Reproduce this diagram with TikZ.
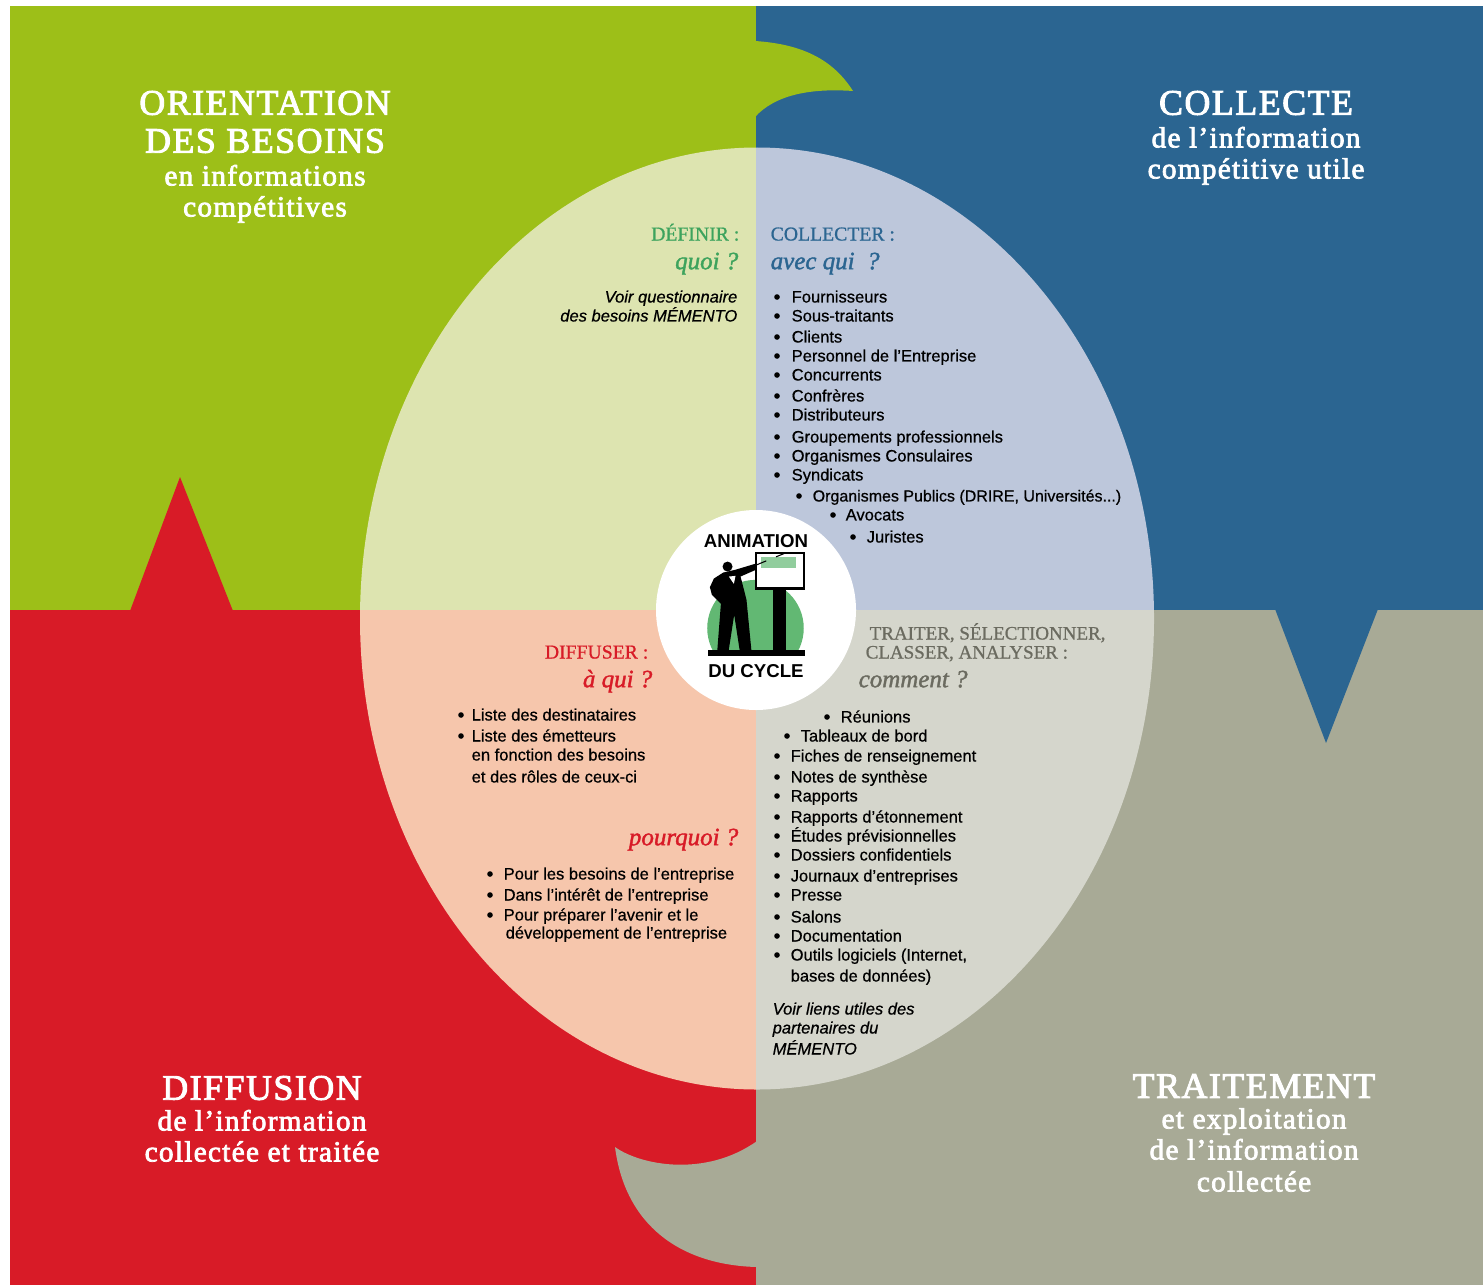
\documentclass[tikz,border=0pt]{standalone}
\usepackage{fontspec}
\setmainfont{Liberation Serif}
\setsansfont{Liberation Sans}
\newfontfamily\titlefont[Ligatures=TeX,FakeBold=2.6,LetterSpace=4.2]{Liberation Serif}
\newfontfamily\subtitlefont[Ligatures=TeX,FakeBold=2.6,LetterSpace=4.5]{Liberation Serif}
\newfontfamily\verbfont[Ligatures=TeX,FakeBold=0.8]{Liberation Serif}
\newfontfamily\askfont[Ligatures=TeX,ItalicFeatures={FakeBold=1.6}]{Liberation Serif}
\newfontfamily\itemfont[Ligatures=TeX,FakeBold=0.6]{Liberation Sans}
\definecolor{orientgreen}{HTML}{9DBF18}
\definecolor{collectblue}{HTML}{2B6591}
\definecolor{diffusered}{HTML}{D81B27}
\definecolor{treatgray}{HTML}{A8AA96}
\definecolor{lightgreen}{HTML}{DDE4B0}
\definecolor{lightblue}{HTML}{BDC7DB}
\definecolor{lightpeach}{HTML}{F6C6AC}
\definecolor{lightgray}{HTML}{D5D6CC}
\definecolor{defgreen}{HTML}{3DA35D}
\definecolor{textgray}{HTML}{6B6B60}
\definecolor{logogreen}{HTML}{62B873}
\tikzstyle{bigtitle}=[white,font=\fontsize{10.2}{12}\selectfont\titlefont,inner sep=0pt]
\tikzstyle{subtitle}=[white,font=\fontsize{8.3}{10}\selectfont\subtitlefont,inner sep=0pt,text height=7pt,text depth=2.2pt]
\tikzstyle{verbtext}=[font=\fontsize{5.6}{6.5}\selectfont\verbfont,inner sep=0pt,text height=3.7pt,text depth=0pt]
\tikzstyle{asktext}=[font=\fontsize{7.1}{9}\selectfont\askfont\itshape,inner sep=0pt,text height=4.9pt,text depth=1.6pt,yshift=-0.4pt]
\tikzstyle{itemtext}=[black,anchor=west,font=\fontsize{4.7}{5.5}\selectfont\itemfont,inner sep=0pt,text height=3.4pt,text depth=1pt,yshift=-0.36pt]
\tikzstyle{notetext}=[black,font=\fontsize{4.7}{5.5}\selectfont\itemfont\itshape,inner sep=0pt,text height=3.4pt,text depth=1pt,yshift=-0.36pt]
\tikzstyle{logotext}=[black,font=\fontsize{5.3}{6.5}\selectfont\sffamily\bfseries,inner sep=0pt]
\newcommand{\drawquadrant}[5]{
  \begin{scope}
    \clip (#2,#3) rectangle (#4,#5);
    \fill[#1] (757,618.5) ellipse (397 and 471);
  \end{scope}
}
% Syntax: {name} {bullet x/text x/y/text, ...}
\newcommand{\drawitems}[2]{
  \foreach \bx/\tx/\y/\txt [count=\i] in {#2} {
    \node[itemtext] (#1\i) at (\tx,\y) {\txt};
    \fill (\bx,\y) circle (2.8);
  }
}
\begin{document}
\begin{tikzpicture}[x=0.01cm,y=-0.01cm]
\useasboundingbox (0,0) rectangle (1483,1285);
% the four panels
\fill[orientgreen] (10,6) rectangle (756,610);
\fill[collectblue] (756,6) rectangle (1483,610);
\fill[diffusered] (10,610) rectangle (756,1285);
\fill[treatgray] (756,610) rectangle (1483,1285);
% tabs and spikes
\fill[orientgreen] (755,41) .. controls (800,44) and (832,58) .. (853,91) .. controls (810,88) and (775,95) .. (755,117) -- cycle;
\fill[diffusered] (130,611) -- (180,477) -- (233,611) -- cycle;
\fill[collectblue] (1275,609) -- (1326,743) -- (1378,609) -- cycle;
\fill[treatgray] (615,1147) .. controls (640,1165) and (705,1178) .. (757,1141) -- (757,1267) .. controls (680,1265) and (625,1225) .. (615,1147) -- cycle;
% central ellipse
\drawquadrant{lightgreen}{300}{100}{756}{610}
\drawquadrant{lightblue}{756}{100}{1200}{610}
\drawquadrant{lightpeach}{300}{610}{756}{1120}
\drawquadrant{lightgray}{756}{610}{1200}{1120}
% logo
\fill[white] (756,610) circle (100);
\begin{scope}[shift={(640,500)},x=0.00333cm,y=-0.00333cm]
  \begin{scope}
    \clip (190,235) rectangle (500,465);
    \fill[logogreen] (347,385) ellipse (145 and 145);
  \end{scope}
  \fill[black] (400,262) rectangle (440,455);
  \fill[black] (205,452) rectangle (497,470);
  \fill[black] (263,200) circle (15);
  \fill[black] (250,218) -- (285,210) -- (345,192) -- (352,208) -- (302,230) -- (306,245) -- (320,300) -- (335,455) -- (300,455) -- (283,345) -- (266,455) -- (232,455) -- (243,312) -- (216,285) -- (210,262) -- (222,236) -- cycle;
  \fill[white] (267,230) -- (287,228) -- (282,252) -- cycle;
  \draw[black,line width=0.7pt,fill=white] (348,160) rectangle (492,266);
  \fill[logogreen!70] (365,172) rectangle (470,205);
  \draw[black,dashed,line width=0.3pt] (350,195) -- (435,160);
\end{scope}
\node[logotext] (animation) at (756,541) {ANIMATION};
\node[logotext] (ducycle) at (756,671) {DU CYCLE};
% titles of the panels
\node[bigtitle] (orient1) at (265,103) {ORIENTATION};
\node[bigtitle] (orient2) at (265,141) {DES BESOINS};
\node[subtitle] (orient3) at (265,177) {en informations};
\node[subtitle] (orient4) at (265,208) {compétitives};
\node[bigtitle] (collect1) at (1256,103) {COLLECTE};
\node[subtitle] (collect2) at (1256,139) {de l'information};
\node[subtitle] (collect3) at (1256,170) {compétitive utile};
\node[bigtitle] (diffuse1) at (262,1088) {DIFFUSION};
\node[subtitle] (diffuse2) at (262,1122) {de l'information};
\node[subtitle] (diffuse3) at (262,1153) {collectée et traitée};
\node[bigtitle] (treat1) at (1254,1086) {TRAITEMENT};
\node[subtitle] (treat2) at (1254,1120) {et exploitation};
\node[subtitle] (treat3) at (1254,1151) {de l'information};
\node[subtitle] (treat4) at (1254,1183) {collectée};
% definir
\node[verbtext,defgreen,anchor=east] (definir) at (740,234) {DÉFINIR :};
\node[asktext,defgreen,anchor=east] (quoi) at (739,262) {quoi ?};
\node[notetext,anchor=east] (voir1) at (738,297) {Voir questionnaire};
\node[notetext,anchor=east] (voir2) at (738,316) {des besoins MÉMENTO};
% collecter
\node[verbtext,collectblue,anchor=west] (collecter) at (770,234) {COLLECTER :};
\node[asktext,collectblue,anchor=west] (avecqui) at (770,262) {avec qui\ \ ?};
\drawitems{coll}{777/791/297/Fournisseurs, 777/791/316/Sous-traitants, 777/791/337/Clients,
  777/791/356/Personnel de l'Entreprise, 777/791/375/Concurrents, 777/791/396/Confrères,
  777/791/415/Distributeurs, 777/791/437/Groupements professionnels, 777/791/456/Organismes Consulaires,
  777/791/475/Syndicats, 799/812/496/{\fontsize{4.55}{5.5}\selectfont Organismes Publics (DRIRE, Universités...)},
  833/845/515/Avocats, 853/866/537/Juristes}
% diffuser
\node[verbtext,diffusered,anchor=east] (diffuser) at (649,652) {DIFFUSER :};
\node[asktext,diffusered,anchor=east] (aqui) at (653,680) {à qui ?};
\drawitems{dest}{461/471/715/Liste des destinataires, 461/471/736/Liste des émetteurs}
\node[itemtext] (dest3) at (471,755) {en fonction des besoins};
\node[itemtext] (dest4) at (471,777) {et des rôles de ceux-ci};
\node[asktext,diffusered,anchor=east] (pourquoi) at (739,838) {pourquoi ?};
\drawitems{why}{490/503/874/Pour les besoins de l'entreprise, 490/503/895/Dans l'intérêt de l'entreprise, 490/503/915/Pour préparer l'avenir et le}
\node[itemtext] (why4) at (505,933) {développement de l'entreprise};
% traiter
\node[verbtext,textgray,anchor=west,font=\fontsize{5.4}{6.5}\selectfont\verbfont] (traiter1) at (869,633) {TRAITER, SÉLECTIONNER,};
\node[verbtext,textgray,anchor=west,font=\fontsize{5.4}{6.5}\selectfont\verbfont] (traiter2) at (865,652) {CLASSER, ANALYSER :};
\node[asktext,textgray,anchor=west] (comment) at (858,680) {comment ?};
\drawitems{how}{827/840/717/Réunions, 787/800/736/Tableaux de bord, 777/790/756/Fiches de renseignement,
  777/790/777/Notes de synthèse, 777/790/796/Rapports, 777/790/817/Rapports d'étonnement,
  777/790/836/Études prévisionnelles, 777/790/855/Dossiers confidentiels, 777/790/876/Journaux d'entreprises,
  777/790/895/Presse, 777/790/917/Salons, 777/790/936/Documentation, 777/790/955/{Outils logiciels (Internet,}}
\node[itemtext] (how14) at (790,976) {bases de données)};
\node[notetext,anchor=west] (liens1) at (772,1009) {Voir liens utiles des};
\node[notetext,anchor=west] (liens2) at (772,1028) {partenaires du};
\node[notetext,anchor=west] (liens3) at (772,1049) {MÉMENTO};
\end{tikzpicture}
\end{document}
